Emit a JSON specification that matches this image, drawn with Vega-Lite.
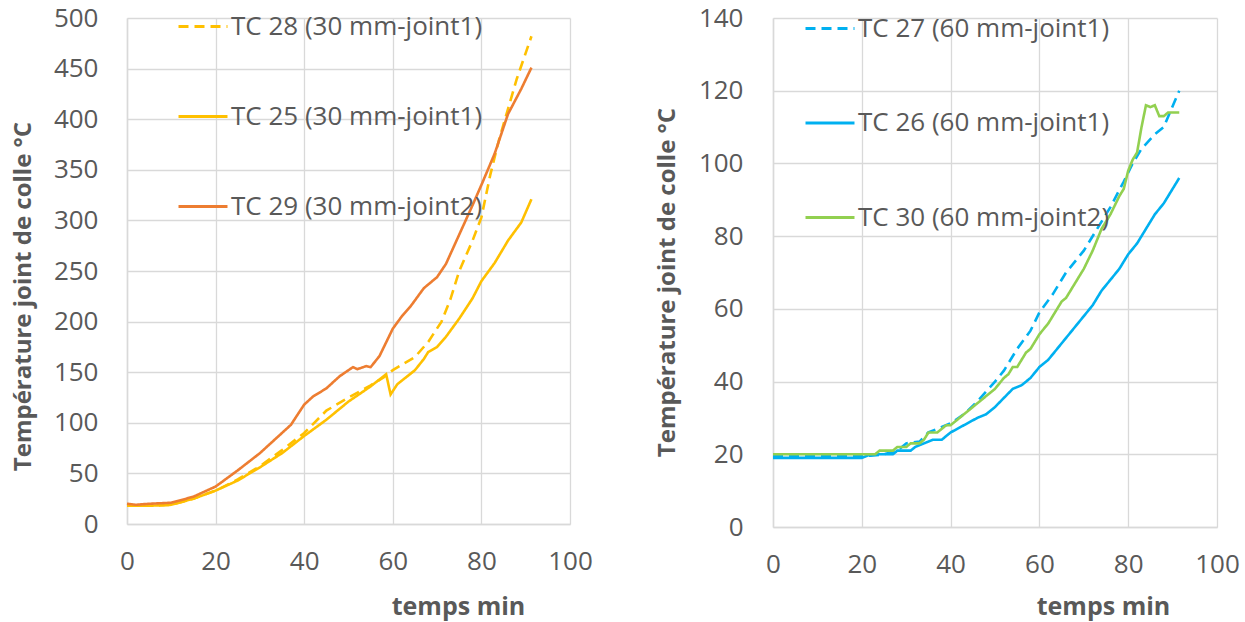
{
  "$schema": "https://vega.github.io/schema/vega-lite/v6.json",
  "padding": {"left": 11, "top": 0, "right": 5, "bottom": 20},
  "background": "white",
  "spacing": 203,
  "bounds": "flush",
  "config": {
    "font": "Open Sans",
    "view": {"stroke": null},
    "axis": {
      "labelFont": "Open Sans", "labelFontSize": 26, "labelColor": "#595959", "labelFlush": false,
      "titleFont": "Open Sans", "titleFontSize": 24, "titleFontWeight": "bold", "titleColor": "#595959",
      "gridColor": "#d9d9d9", "gridWidth": 1.3, "domainColor": "#d9d9d9", "domainWidth": 1.5,
      "ticks": false
    },
    "legend": {
      "labelFont": "Open Sans", "labelFontSize": 26, "labelColor": "#595959", "labelLimit": 400
    }
  },
  "datasets": {
    "left": [
      {"s": "TC 28 (30 mm-joint1)", "t": 0, "T": 18}, {"s": "TC 28 (30 mm-joint1)", "t": 5, "T": 18}, {"s": "TC 28 (30 mm-joint1)", "t": 10, "T": 19},
      {"s": "TC 28 (30 mm-joint1)", "t": 15, "T": 25}, {"s": "TC 28 (30 mm-joint1)", "t": 20, "T": 33}, {"s": "TC 28 (30 mm-joint1)", "t": 25, "T": 44},
      {"s": "TC 28 (30 mm-joint1)", "t": 30, "T": 57}, {"s": "TC 28 (30 mm-joint1)", "t": 35, "T": 73}, {"s": "TC 28 (30 mm-joint1)", "t": 40, "T": 90},
      {"s": "TC 28 (30 mm-joint1)", "t": 45, "T": 112}, {"s": "TC 28 (30 mm-joint1)", "t": 50, "T": 125}, {"s": "TC 28 (30 mm-joint1)", "t": 55, "T": 137},
      {"s": "TC 28 (30 mm-joint1)", "t": 58, "T": 145}, {"s": "TC 28 (30 mm-joint1)", "t": 60, "T": 152}, {"s": "TC 28 (30 mm-joint1)", "t": 65, "T": 165},
      {"s": "TC 28 (30 mm-joint1)", "t": 68, "T": 180}, {"s": "TC 28 (30 mm-joint1)", "t": 71, "T": 200}, {"s": "TC 28 (30 mm-joint1)", "t": 73, "T": 222},
      {"s": "TC 28 (30 mm-joint1)", "t": 75, "T": 250}, {"s": "TC 28 (30 mm-joint1)", "t": 78, "T": 280}, {"s": "TC 28 (30 mm-joint1)", "t": 80, "T": 303},
      {"s": "TC 28 (30 mm-joint1)", "t": 82, "T": 345}, {"s": "TC 28 (30 mm-joint1)", "t": 84, "T": 380}, {"s": "TC 28 (30 mm-joint1)", "t": 86, "T": 410},
      {"s": "TC 28 (30 mm-joint1)", "t": 88, "T": 440}, {"s": "TC 28 (30 mm-joint1)", "t": 91.3, "T": 482},

      {"s": "TC 25 (30 mm-joint1)", "t": 0, "T": 18}, {"s": "TC 25 (30 mm-joint1)", "t": 5, "T": 18}, {"s": "TC 25 (30 mm-joint1)", "t": 10, "T": 19},
      {"s": "TC 25 (30 mm-joint1)", "t": 15, "T": 25}, {"s": "TC 25 (30 mm-joint1)", "t": 20, "T": 33}, {"s": "TC 25 (30 mm-joint1)", "t": 25, "T": 43},
      {"s": "TC 25 (30 mm-joint1)", "t": 30, "T": 56}, {"s": "TC 25 (30 mm-joint1)", "t": 35, "T": 70}, {"s": "TC 25 (30 mm-joint1)", "t": 40, "T": 87},
      {"s": "TC 25 (30 mm-joint1)", "t": 45, "T": 103}, {"s": "TC 25 (30 mm-joint1)", "t": 50, "T": 121}, {"s": "TC 25 (30 mm-joint1)", "t": 55, "T": 136},
      {"s": "TC 25 (30 mm-joint1)", "t": 58.5, "T": 148}, {"s": "TC 25 (30 mm-joint1)", "t": 59.5, "T": 128}, {"s": "TC 25 (30 mm-joint1)", "t": 61, "T": 138},
      {"s": "TC 25 (30 mm-joint1)", "t": 63, "T": 145}, {"s": "TC 25 (30 mm-joint1)", "t": 65, "T": 152}, {"s": "TC 25 (30 mm-joint1)", "t": 67, "T": 163},
      {"s": "TC 25 (30 mm-joint1)", "t": 68, "T": 170}, {"s": "TC 25 (30 mm-joint1)", "t": 70, "T": 175}, {"s": "TC 25 (30 mm-joint1)", "t": 72, "T": 185},
      {"s": "TC 25 (30 mm-joint1)", "t": 75, "T": 203}, {"s": "TC 25 (30 mm-joint1)", "t": 78, "T": 223}, {"s": "TC 25 (30 mm-joint1)", "t": 80, "T": 240},
      {"s": "TC 25 (30 mm-joint1)", "t": 83, "T": 258}, {"s": "TC 25 (30 mm-joint1)", "t": 86, "T": 280}, {"s": "TC 25 (30 mm-joint1)", "t": 89, "T": 298},
      {"s": "TC 25 (30 mm-joint1)", "t": 91.3, "T": 321},

      {"s": "TC 29 (30 mm-joint2)", "t": 0, "T": 20}, {"s": "TC 29 (30 mm-joint2)", "t": 2, "T": 19}, {"s": "TC 29 (30 mm-joint2)", "t": 5, "T": 20},
      {"s": "TC 29 (30 mm-joint2)", "t": 10, "T": 21}, {"s": "TC 29 (30 mm-joint2)", "t": 15, "T": 27}, {"s": "TC 29 (30 mm-joint2)", "t": 20, "T": 37},
      {"s": "TC 29 (30 mm-joint2)", "t": 25, "T": 53}, {"s": "TC 29 (30 mm-joint2)", "t": 30, "T": 70}, {"s": "TC 29 (30 mm-joint2)", "t": 35, "T": 90},
      {"s": "TC 29 (30 mm-joint2)", "t": 37, "T": 98}, {"s": "TC 29 (30 mm-joint2)", "t": 40, "T": 118}, {"s": "TC 29 (30 mm-joint2)", "t": 42, "T": 126},
      {"s": "TC 29 (30 mm-joint2)", "t": 45, "T": 134}, {"s": "TC 29 (30 mm-joint2)", "t": 48, "T": 146}, {"s": "TC 29 (30 mm-joint2)", "t": 51, "T": 155},
      {"s": "TC 29 (30 mm-joint2)", "t": 52, "T": 153}, {"s": "TC 29 (30 mm-joint2)", "t": 54, "T": 156}, {"s": "TC 29 (30 mm-joint2)", "t": 55, "T": 155},
      {"s": "TC 29 (30 mm-joint2)", "t": 57, "T": 166}, {"s": "TC 29 (30 mm-joint2)", "t": 58, "T": 175}, {"s": "TC 29 (30 mm-joint2)", "t": 60, "T": 193},
      {"s": "TC 29 (30 mm-joint2)", "t": 62, "T": 205}, {"s": "TC 29 (30 mm-joint2)", "t": 64, "T": 215}, {"s": "TC 29 (30 mm-joint2)", "t": 67, "T": 233},
      {"s": "TC 29 (30 mm-joint2)", "t": 70, "T": 244}, {"s": "TC 29 (30 mm-joint2)", "t": 72, "T": 257}, {"s": "TC 29 (30 mm-joint2)", "t": 75, "T": 286},
      {"s": "TC 29 (30 mm-joint2)", "t": 78, "T": 315}, {"s": "TC 29 (30 mm-joint2)", "t": 80, "T": 335}, {"s": "TC 29 (30 mm-joint2)", "t": 83, "T": 366},
      {"s": "TC 29 (30 mm-joint2)", "t": 86, "T": 405}, {"s": "TC 29 (30 mm-joint2)", "t": 89, "T": 430}, {"s": "TC 29 (30 mm-joint2)", "t": 91.3, "T": 451}
    ],
    "right": [
      {"s": "TC 27 (60 mm-joint1)", "t": 0, "T": 19.6}, {"s": "TC 27 (60 mm-joint1)", "t": 22, "T": 19.6}, {"s": "TC 27 (60 mm-joint1)", "t": 25, "T": 20},
      {"s": "TC 27 (60 mm-joint1)", "t": 28, "T": 21}, {"s": "TC 27 (60 mm-joint1)", "t": 30, "T": 23}, {"s": "TC 27 (60 mm-joint1)", "t": 33, "T": 23.5},
      {"s": "TC 27 (60 mm-joint1)", "t": 35, "T": 26}, {"s": "TC 27 (60 mm-joint1)", "t": 38, "T": 27.5}, {"s": "TC 27 (60 mm-joint1)", "t": 40, "T": 28.5},
      {"s": "TC 27 (60 mm-joint1)", "t": 43, "T": 31}, {"s": "TC 27 (60 mm-joint1)", "t": 46, "T": 34.5}, {"s": "TC 27 (60 mm-joint1)", "t": 50, "T": 40},
      {"s": "TC 27 (60 mm-joint1)", "t": 52, "T": 43}, {"s": "TC 27 (60 mm-joint1)", "t": 55, "T": 49}, {"s": "TC 27 (60 mm-joint1)", "t": 58, "T": 54},
      {"s": "TC 27 (60 mm-joint1)", "t": 60, "T": 59}, {"s": "TC 27 (60 mm-joint1)", "t": 63, "T": 64}, {"s": "TC 27 (60 mm-joint1)", "t": 66, "T": 70},
      {"s": "TC 27 (60 mm-joint1)", "t": 70, "T": 76}, {"s": "TC 27 (60 mm-joint1)", "t": 73, "T": 82}, {"s": "TC 27 (60 mm-joint1)", "t": 76, "T": 88},
      {"s": "TC 27 (60 mm-joint1)", "t": 79, "T": 95}, {"s": "TC 27 (60 mm-joint1)", "t": 81, "T": 100}, {"s": "TC 27 (60 mm-joint1)", "t": 83, "T": 104},
      {"s": "TC 27 (60 mm-joint1)", "t": 86, "T": 108}, {"s": "TC 27 (60 mm-joint1)", "t": 88, "T": 110}, {"s": "TC 27 (60 mm-joint1)", "t": 91.5, "T": 120},

      {"s": "TC 26 (60 mm-joint1)", "t": 0, "T": 19}, {"s": "TC 26 (60 mm-joint1)", "t": 20, "T": 19}, {"s": "TC 26 (60 mm-joint1)", "t": 22, "T": 20},
      {"s": "TC 26 (60 mm-joint1)", "t": 27, "T": 20}, {"s": "TC 26 (60 mm-joint1)", "t": 28, "T": 21}, {"s": "TC 26 (60 mm-joint1)", "t": 31, "T": 21},
      {"s": "TC 26 (60 mm-joint1)", "t": 32, "T": 22}, {"s": "TC 26 (60 mm-joint1)", "t": 34, "T": 23}, {"s": "TC 26 (60 mm-joint1)", "t": 36, "T": 24},
      {"s": "TC 26 (60 mm-joint1)", "t": 38, "T": 24}, {"s": "TC 26 (60 mm-joint1)", "t": 40, "T": 26}, {"s": "TC 26 (60 mm-joint1)", "t": 43, "T": 28},
      {"s": "TC 26 (60 mm-joint1)", "t": 46, "T": 30}, {"s": "TC 26 (60 mm-joint1)", "t": 48, "T": 31}, {"s": "TC 26 (60 mm-joint1)", "t": 50, "T": 33},
      {"s": "TC 26 (60 mm-joint1)", "t": 52, "T": 35.5}, {"s": "TC 26 (60 mm-joint1)", "t": 54, "T": 38}, {"s": "TC 26 (60 mm-joint1)", "t": 56, "T": 39},
      {"s": "TC 26 (60 mm-joint1)", "t": 58, "T": 41}, {"s": "TC 26 (60 mm-joint1)", "t": 60, "T": 44}, {"s": "TC 26 (60 mm-joint1)", "t": 62, "T": 46},
      {"s": "TC 26 (60 mm-joint1)", "t": 64, "T": 49}, {"s": "TC 26 (60 mm-joint1)", "t": 66, "T": 52}, {"s": "TC 26 (60 mm-joint1)", "t": 68, "T": 55},
      {"s": "TC 26 (60 mm-joint1)", "t": 70, "T": 58}, {"s": "TC 26 (60 mm-joint1)", "t": 72, "T": 61}, {"s": "TC 26 (60 mm-joint1)", "t": 74, "T": 65},
      {"s": "TC 26 (60 mm-joint1)", "t": 76, "T": 68}, {"s": "TC 26 (60 mm-joint1)", "t": 78, "T": 71}, {"s": "TC 26 (60 mm-joint1)", "t": 80, "T": 75},
      {"s": "TC 26 (60 mm-joint1)", "t": 82, "T": 78}, {"s": "TC 26 (60 mm-joint1)", "t": 84, "T": 82}, {"s": "TC 26 (60 mm-joint1)", "t": 86, "T": 86},
      {"s": "TC 26 (60 mm-joint1)", "t": 88, "T": 89}, {"s": "TC 26 (60 mm-joint1)", "t": 90, "T": 93}, {"s": "TC 26 (60 mm-joint1)", "t": 91.5, "T": 96},

      {"s": "TC 30 (60 mm-joint2)", "t": 0, "T": 20}, {"s": "TC 30 (60 mm-joint2)", "t": 23, "T": 20}, {"s": "TC 30 (60 mm-joint2)", "t": 24, "T": 21},
      {"s": "TC 30 (60 mm-joint2)", "t": 27, "T": 21}, {"s": "TC 30 (60 mm-joint2)", "t": 28, "T": 22}, {"s": "TC 30 (60 mm-joint2)", "t": 30, "T": 22},
      {"s": "TC 30 (60 mm-joint2)", "t": 31, "T": 23}, {"s": "TC 30 (60 mm-joint2)", "t": 33, "T": 23}, {"s": "TC 30 (60 mm-joint2)", "t": 34, "T": 24},
      {"s": "TC 30 (60 mm-joint2)", "t": 35, "T": 26}, {"s": "TC 30 (60 mm-joint2)", "t": 37, "T": 26}, {"s": "TC 30 (60 mm-joint2)", "t": 39, "T": 28},
      {"s": "TC 30 (60 mm-joint2)", "t": 40, "T": 28}, {"s": "TC 30 (60 mm-joint2)", "t": 42, "T": 30}, {"s": "TC 30 (60 mm-joint2)", "t": 45, "T": 33},
      {"s": "TC 30 (60 mm-joint2)", "t": 48, "T": 36}, {"s": "TC 30 (60 mm-joint2)", "t": 50, "T": 38}, {"s": "TC 30 (60 mm-joint2)", "t": 52, "T": 41},
      {"s": "TC 30 (60 mm-joint2)", "t": 53, "T": 42}, {"s": "TC 30 (60 mm-joint2)", "t": 54, "T": 44}, {"s": "TC 30 (60 mm-joint2)", "t": 55, "T": 44},
      {"s": "TC 30 (60 mm-joint2)", "t": 56, "T": 46}, {"s": "TC 30 (60 mm-joint2)", "t": 57, "T": 48}, {"s": "TC 30 (60 mm-joint2)", "t": 58, "T": 49},
      {"s": "TC 30 (60 mm-joint2)", "t": 60, "T": 53}, {"s": "TC 30 (60 mm-joint2)", "t": 62, "T": 56}, {"s": "TC 30 (60 mm-joint2)", "t": 64, "T": 60},
      {"s": "TC 30 (60 mm-joint2)", "t": 65, "T": 62}, {"s": "TC 30 (60 mm-joint2)", "t": 66, "T": 63}, {"s": "TC 30 (60 mm-joint2)", "t": 68, "T": 67},
      {"s": "TC 30 (60 mm-joint2)", "t": 70, "T": 71}, {"s": "TC 30 (60 mm-joint2)", "t": 72, "T": 76}, {"s": "TC 30 (60 mm-joint2)", "t": 74, "T": 82},
      {"s": "TC 30 (60 mm-joint2)", "t": 76, "T": 86}, {"s": "TC 30 (60 mm-joint2)", "t": 78, "T": 91}, {"s": "TC 30 (60 mm-joint2)", "t": 79, "T": 93},
      {"s": "TC 30 (60 mm-joint2)", "t": 80, "T": 98}, {"s": "TC 30 (60 mm-joint2)", "t": 81, "T": 101}, {"s": "TC 30 (60 mm-joint2)", "t": 82, "T": 103},
      {"s": "TC 30 (60 mm-joint2)", "t": 83, "T": 110}, {"s": "TC 30 (60 mm-joint2)", "t": 84, "T": 116}, {"s": "TC 30 (60 mm-joint2)", "t": 85, "T": 115.5},
      {"s": "TC 30 (60 mm-joint2)", "t": 86, "T": 116}, {"s": "TC 30 (60 mm-joint2)", "t": 87, "T": 113}, {"s": "TC 30 (60 mm-joint2)", "t": 88, "T": 113},
      {"s": "TC 30 (60 mm-joint2)", "t": 89, "T": 114}, {"s": "TC 30 (60 mm-joint2)", "t": 90, "T": 114}, {"s": "TC 30 (60 mm-joint2)", "t": 91.5, "T": 114}
    ]
  },
  "resolve": {
    "scale": {"color": "independent", "strokeDash": "independent", "y": "independent"},
    "legend": {"color": "independent", "strokeDash": "independent"}
  },
  "hconcat": [
    {
      "width": 443, "height": 506,
      "data": {"name": "left"},
      "mark": {"type": "line", "strokeWidth": 2.6},
      "encoding": {
        "x": {"field": "t", "type": "quantitative",
          "scale": {"domain": [0, 100], "nice": false},
          "axis": {"values": [0, 20, 40, 60, 80, 100], "title": "temps min", "labelPadding": 24, "titleX": 331, "titleY": 82, "titleBaseline": "middle", "titleFontSize": 25}},
        "y": {"field": "T", "type": "quantitative",
          "scale": {"domain": [0, 500], "nice": false},
          "axis": {"values": [0, 50, 100, 150, 200, 250, 300, 350, 400, 450, 500], "title": "Température joint de colle °C", "labelPadding": 29, "titleX": -104, "titleY": 278, "titleBaseline": "middle"}},
        "color": {"field": "s", "type": "nominal",
          "scale": {"domain": ["TC 28 (30 mm-joint1)", "TC 25 (30 mm-joint1)", "TC 29 (30 mm-joint2)"], "range": ["#FFC000", "#FFC000", "#ED7D31"]},
          "legend": {"title": null, "orient": "none", "legendX": 50, "legendY": -17.5, "symbolType": "stroke", "symbolSize": 2400, "symbolStrokeWidth": 3, "rowPadding": 51, "labelOffset": 2}},
        "strokeDash": {"field": "s", "type": "nominal",
          "scale": {"domain": ["TC 28 (30 mm-joint1)", "TC 25 (30 mm-joint1)", "TC 29 (30 mm-joint2)"], "range": [[10, 6], [1, 0], [1, 0]]},
          "legend": {"title": null, "orient": "none", "legendX": 50, "legendY": -17.5, "symbolType": "stroke", "symbolSize": 2400, "symbolStrokeWidth": 3, "rowPadding": 51, "labelOffset": 2}}
      }
    },
    {
      "width": 444, "height": 509,
      "data": {"name": "right"},
      "mark": {"type": "line", "strokeWidth": 2.6},
      "encoding": {
        "x": {"field": "t", "type": "quantitative",
          "scale": {"domain": [0, 100], "nice": false},
          "axis": {"values": [0, 20, 40, 60, 80, 100], "title": "temps min", "labelPadding": 24, "titleX": 330, "titleY": 79, "titleBaseline": "middle", "titleFontSize": 25}},
        "y": {"field": "T", "type": "quantitative",
          "scale": {"domain": [0, 140], "nice": false},
          "axis": {"values": [0, 20, 40, 60, 80, 100, 120, 140], "title": "Température joint de colle  °C", "labelPadding": 30, "titleX": -106, "titleY": 264, "titleBaseline": "middle"}},
        "color": {"field": "s", "type": "nominal",
          "scale": {"domain": ["TC 27 (60 mm-joint1)", "TC 26 (60 mm-joint1)", "TC 30 (60 mm-joint2)"], "range": ["#00B0F0", "#00B0F0", "#92D050"]},
          "legend": {"title": null, "orient": "none", "legendX": 31, "legendY": -15.5, "symbolType": "stroke", "symbolSize": 2400, "symbolStrokeWidth": 3, "rowPadding": 55.5, "labelOffset": 2}},
        "strokeDash": {"field": "s", "type": "nominal",
          "scale": {"domain": ["TC 27 (60 mm-joint1)", "TC 26 (60 mm-joint1)", "TC 30 (60 mm-joint2)"], "range": [[10, 6], [1, 0], [1, 0]]},
          "legend": {"title": null, "orient": "none", "legendX": 31, "legendY": -15.5, "symbolType": "stroke", "symbolSize": 2400, "symbolStrokeWidth": 3, "rowPadding": 55.5, "labelOffset": 2}}
      }
    }
  ]
}
